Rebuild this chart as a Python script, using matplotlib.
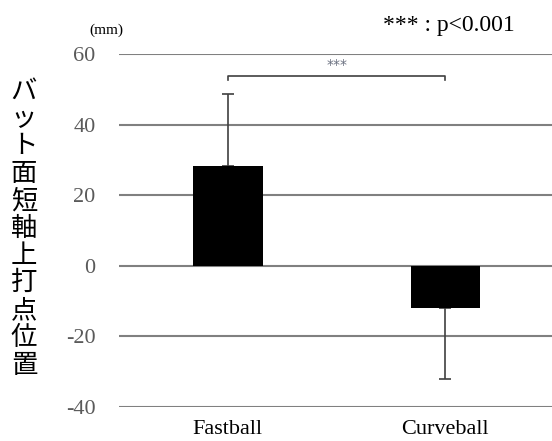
import matplotlib
matplotlib.use("Agg")
import matplotlib.pyplot as plt

categories = ["Fastball", "Curveball"]
means = [28.4, -11.9]
sds = [20.2, 20.2]
yticks = [-40, -20, 0, 20, 40, 60]
ylabel_chars = list("バット面短軸上打点位置")

fig = plt.figure(figsize=(5.52, 4.41), dpi=100)
ax = fig.add_axes([119/552, 1-407/441, 1-119/552, (407-54)/441])
ax.set_xlim(-0.5, 1.49)
ax.set_ylim(-40, 60)

x = list(range(len(categories)))
for xi, m, s in zip(x, means, sds):
    ax.bar(xi, m, width=0.32, color="black", zorder=3)
    lo, hi = ([0], [s]) if m >= 0 else ([s], [0])
    ax.errorbar(xi, m, yerr=[lo, hi], fmt="none", ecolor="#404040",
                elinewidth=1.2, capsize=4, capthick=1.2, zorder=2)

ax.set_yticks(yticks)
ax.set_yticklabels([str(v) for v in yticks], fontfamily="Liberation Serif",
                   fontsize=16, color="#5a5a5a")
ax.set_xticks(x)
ax.set_xticklabels(categories, fontfamily="Liberation Serif", fontsize=16)
ax.tick_params(axis="both", length=0)
ax.tick_params(axis="y", pad=17)
ax.tick_params(axis="x", pad=9)
ax.grid(axis="y", color="#808080", linewidth=1.5, zorder=1)
ax.set_axisbelow(True)
for sp in ax.spines.values():
    sp.set_visible(False)

# significance bracket
ax.plot([0, 0, 1, 1], [52.6, 53.9, 53.9, 52.6], color="#404040", lw=1.2,
        clip_on=False, zorder=4)
ax.text(0.5, 55.0, "***", ha="center", va="bottom", fontsize=10,
        color="#6a7080", fontfamily="DejaVu Sans")

fig.text(106/552, 1-30/441, "(mm)", ha="center", va="center",
         fontfamily="Liberation Serif", fontsize=11)
fig.text(449/552, 1-26/441, "*** : p<0.001", ha="center", va="center",
         fontfamily="Liberation Serif", fontsize=17)

fig.text(24/552, 1-228/441, "\n".join(ylabel_chars), ha="center", va="center",
         fontfamily=["Noto Sans CJK JP", "DejaVu Sans"], fontsize=19,
         linespacing=1.02)

fig.savefig("out.png", dpi=100)
